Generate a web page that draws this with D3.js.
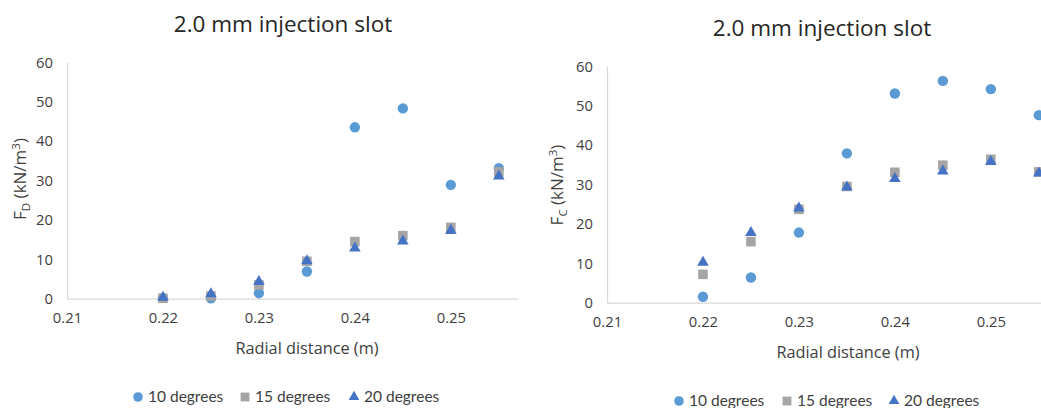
<!DOCTYPE html>
<html>
<head>
<meta charset="utf-8">
<script src="https://cdn.jsdelivr.net/npm/d3@7"></script>
<style>
  html, body { margin: 0; padding: 0; background: #fff; }
  svg { display: block; font-family: "Open Sans", sans-serif; }
</style>
</head>
<body>
<svg id="chart" width="1041" height="408"></svg>
<script>
// Radial positions (m)
const radialDistance = [0.22, 0.225, 0.23, 0.235, 0.24, 0.245, 0.25, 0.255];
const seriesNames = ["10 degrees", "15 degrees", "20 degrees"];
const xTicks = [0.21, 0.22, 0.23, 0.24, 0.25];
const yTicks = [0, 10, 20, 30, 40, 50, 60];

// F_D (kN/m^3)
const fd10 = [0.2, 0.1, 1.4, 6.9, 43.5, 48.3, 28.9, 33.1];
const fd15 = [0.1, 0.7, 3.5, 9.5, 14.5, 16.0, 18.1, 32.2];
const fd20 = [0.3, 1.2, 4.3, 9.6, 12.8, 14.6, 17.3, 31.1];

// F_C (kN/m^3)
const fc10 = [1.5, 6.4, 17.8, 37.9, 53.1, 56.3, 54.2, 47.6];
const fc15 = [7.2, 15.5, 23.7, 29.5, 33.1, 34.9, 36.4, 33.2];
const fc20 = [10.2, 17.8, 24.0, 29.3, 31.5, 33.4, 35.8, 32.9];

const colors = ["#5B9BD5", "#A5A5A5", "#4472C4"];
const symbols = [d3.symbolCircle, d3.symbolSquare, d3.symbolTriangle];
const symbolSizes = [85, 92, 58];

const svg = d3.select("#chart");

function panel(cfg) {
  const g = svg.append("g");
  const x = d3.scaleLinear().domain([0.21, 0.257]).range([cfg.x0, cfg.x0 + 451]);
  const y = d3.scaleLinear().domain([0, 60]).range([cfg.y0, cfg.y0 - 236.4]);

  // title
  g.append("text")
    .attr("x", cfg.titleX).attr("y", cfg.titleY)
    .attr("text-anchor", "middle")
    .attr("font-size", 22.5).attr("fill", "#262626")
    .text("2.0 mm injection slot");

  // axes
  const xAxis = d3.axisBottom(x).tickValues(xTicks).tickSize(0).tickPadding(14)
    .tickFormat(d3.format(".2f"));
  const yAxis = d3.axisLeft(y).tickValues(yTicks).tickSize(0).tickPadding(14);

  const gx = g.append("g").attr("transform", `translate(0,${cfg.y0})`).call(xAxis);
  const gy = g.append("g").attr("transform", `translate(${cfg.x0},0)`).call(yAxis);
  [gx, gy].forEach(a => {
    a.select(".domain").attr("stroke", "#d9d9d9").attr("stroke-width", 1.3);
    a.selectAll("text").attr("font-family", "'Open Sans', sans-serif")
      .attr("font-size", 14.8).attr("fill", "#404040");
  });

  // axis titles
  g.append("text")
    .attr("x", cfg.xLabelX).attr("y", cfg.y0 + 55)
    .attr("text-anchor", "middle").attr("font-size", 16.3).attr("fill", "#404040")
    .text("Radial distance (m)");

  const yl = g.append("text")
    .attr("transform", `translate(${cfg.yLabelX},${cfg.yLabelY}) rotate(-90)`)
    .attr("text-anchor", "middle").attr("font-size", 17).attr("fill", "#404040");
  yl.append("tspan").text("F");
  yl.append("tspan").attr("font-size", 11.5).attr("dy", 4).text(cfg.sub);
  yl.append("tspan").attr("dy", -4).text(" (kN/m");
  yl.append("tspan").attr("font-size", 11.5).attr("dy", -6).text("3");
  yl.append("tspan").attr("dy", 6).text(")");

  // points
  cfg.series.forEach((vals, i) => {
    g.append("g").selectAll("path")
      .data(vals.map((v, k) => [radialDistance[k], v]))
      .join("path")
      .attr("transform", d => `translate(${x(d[0])},${y(d[1])})`)
      .attr("d", d3.symbol().type(symbols[i]).size(symbolSizes[i]))
      .attr("fill", colors[i]);
  });

  // legend
  const lg = g.append("g").attr("transform", `translate(0,${cfg.legendY})`);
  seriesNames.forEach((name, i) => {
    const lx = cfg.legendX[i];
    lg.append("path")
      .attr("transform", `translate(${lx},0)`)
      .attr("d", d3.symbol().type(symbols[i]).size(symbolSizes[i] * 0.85))
      .attr("fill", colors[i]);
    lg.append("text")
      .attr("x", lx + 10).attr("y", 0).attr("dy", "0.35em")
      .attr("font-family", "Lato, sans-serif")
      .attr("font-size", 15.5).attr("fill", "#404040")
      .text(name);
  });
}

panel({
  x0: 67, y0: 298.7, titleX: 283, titleY: 32,
  xLabelX: 307, yLabelX: 26, yLabelY: 179, sub: "D",
  series: [fd10, fd15, fd20],
  legendY: 397, legendX: [138, 245, 354]
});

panel({
  x0: 607, y0: 302.7, titleX: 822, titleY: 36,
  xLabelX: 848, yLabelX: 563, yLabelY: 185, sub: "C",
  series: [fc10, fc15, fc20],
  legendY: 401, legendX: [679, 787, 894]
});
</script>
</body>
</html>
